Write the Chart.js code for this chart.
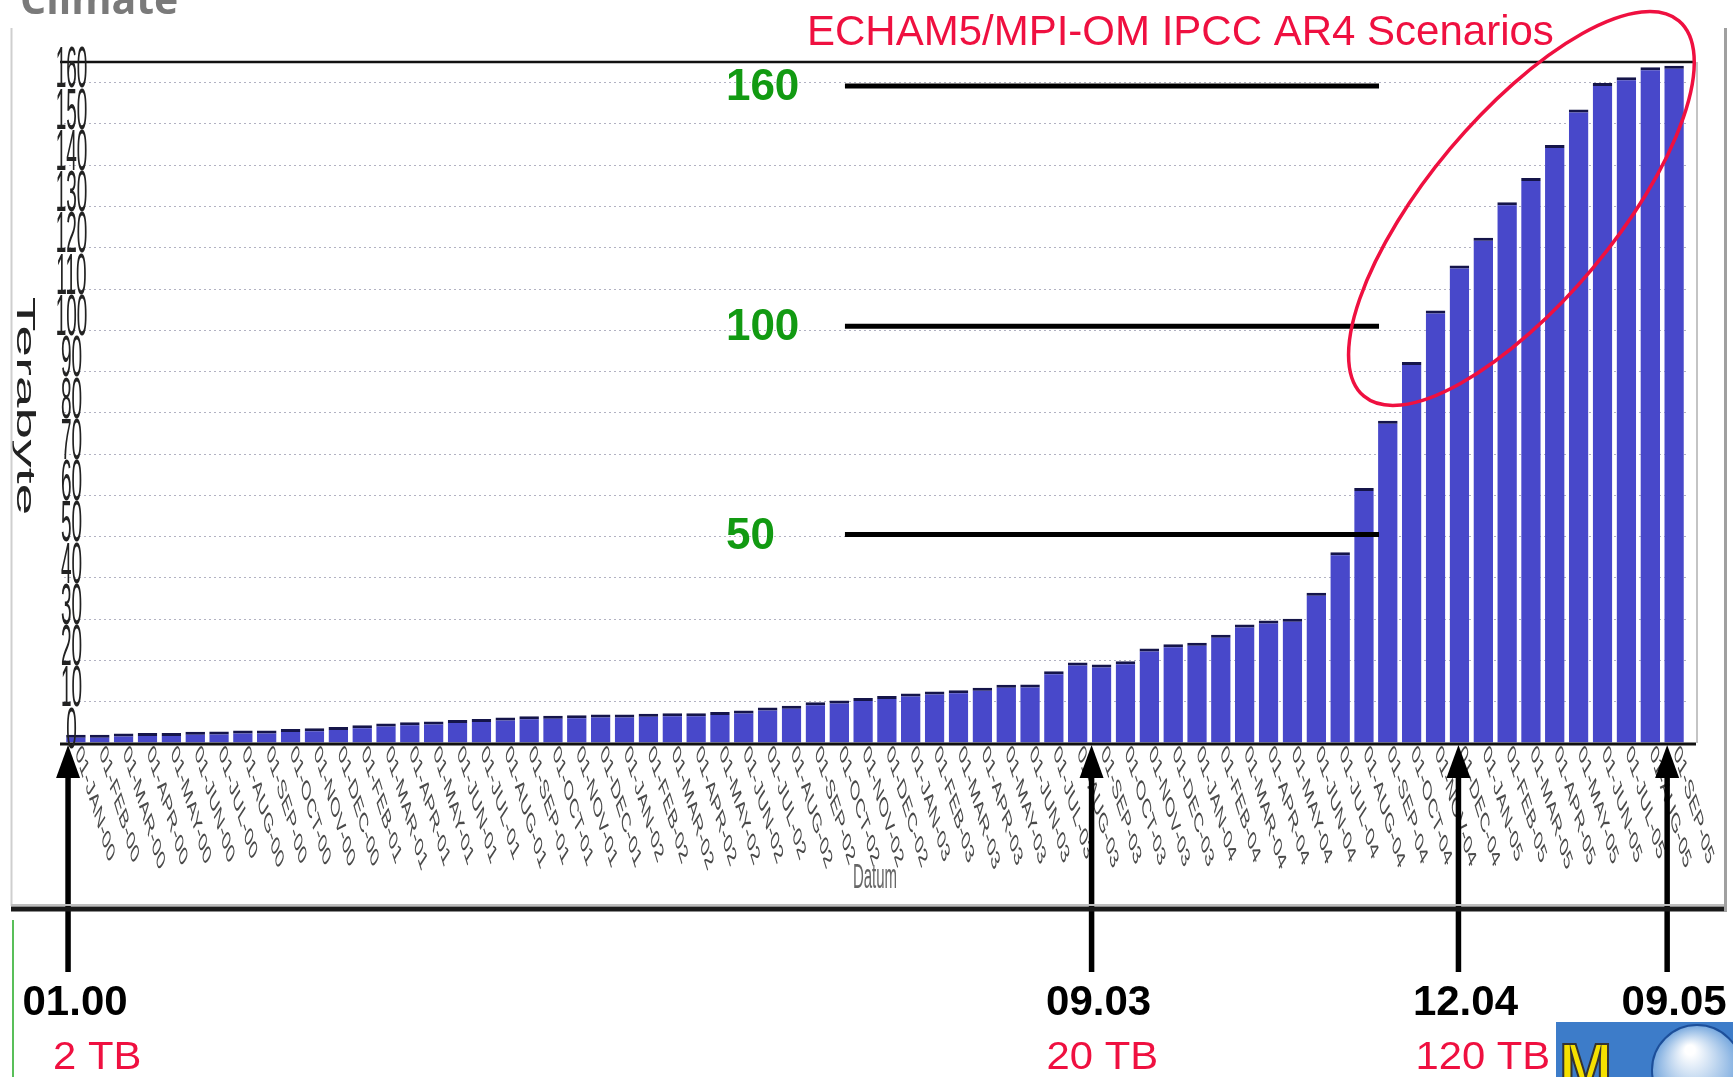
<!DOCTYPE html>
<html>
<head>
<meta charset="utf-8">
<script src="https://cdn.jsdelivr.net/npm/chart.js@4.4.0/dist/chart.umd.min.js"></script>
<style>
  html, body { margin: 0; padding: 0; background: #fff; }
  canvas { display: block; }
</style>
</head>
<body>
<canvas id="barChart" width="1733" height="1077"></canvas>
<script>
// monthly archive size (Terabyte), JAN-01 is missing in the original series
var monthLabels = [
    '01-JAN-00', '01-FEB-00', '01-MAR-00', '01-APR-00', '01-MAY-00', '01-JUN-00',
    '01-JUL-00', '01-AUG-00', '01-SEP-00', '01-OCT-00', '01-NOV-00', '01-DEC-00',
    '01-FEB-01', '01-MAR-01', '01-APR-01', '01-MAY-01', '01-JUN-01', '01-JUL-01',
    '01-AUG-01', '01-SEP-01', '01-OCT-01', '01-NOV-01', '01-DEC-01',
    '01-JAN-02', '01-FEB-02', '01-MAR-02', '01-APR-02', '01-MAY-02', '01-JUN-02',
    '01-JUL-02', '01-AUG-02', '01-SEP-02', '01-OCT-02', '01-NOV-02', '01-DEC-02',
    '01-JAN-03', '01-FEB-03', '01-MAR-03', '01-APR-03', '01-MAY-03', '01-JUN-03',
    '01-JUL-03', '01-AUG-03', '01-SEP-03', '01-OCT-03', '01-NOV-03', '01-DEC-03',
    '01-JAN-04', '01-FEB-04', '01-MAR-04', '01-APR-04', '01-MAY-04', '01-JUN-04',
    '01-JUL-04', '01-AUG-04', '01-SEP-04', '01-OCT-04', '01-NOV-04', '01-DEC-04',
    '01-JAN-05', '01-FEB-05', '01-MAR-05', '01-APR-05', '01-MAY-05', '01-JUN-05',
    '01-JUL-05', '01-AUG-05', '01-SEP-05'
];
var terabytes = [
    2.0, 2.0, 2.3, 2.4, 2.4, 2.7, 2.8, 3.0, 3.0, 3.4,
    3.6, 3.9, 4.3, 4.7, 5.0, 5.2, 5.6, 5.8, 6.2, 6.5,
    6.6, 6.7, 6.9, 6.9, 7.1, 7.2, 7.2, 7.5, 7.9, 8.6,
    9.0, 9.9, 10.3, 10.9, 11.4, 12.0, 12.5, 12.8, 13.4, 14.1,
    14.2, 17.4, 19.5, 19.0, 19.8, 22.9, 23.9, 24.3, 26.2, 28.7,
    29.7, 30.1, 36.4, 46.2, 61.8, 78.1, 92.3, 104.8, 115.7, 122.4,
    131.0, 136.9, 144.9, 153.5, 159.9, 161.3, 163.7, 164.1
];
var yTickLabels = [0, 10, 20, 30, 40, 50, 60, 70, 80, 90, 100, 110, 120, 130, 140, 150, 160];

// hand drawn marks on the slide
var guideLabels = ['160', '100', '50'];
var guideValues = [159.2, 101, 50.5];
var arrowPos = [-0.33, 42.58, 57.96, 66.71];   // in category units
var arrowDates = ['01.00', '09.03', '12.04', '09.05'];
var arrowSizes = ['2 TB', '20 TB', '120 TB', ''];
var sizeOffsets = [-15, -45, -43, 0];

var RED = '#ef1040';
var deg = Math.PI / 180;

function drawText(ctx, text, x, y, opt) {
    ctx.save();
    ctx.translate(x, y);
    ctx.scale(opt.sx || 1, opt.sy || 1);
    ctx.rotate(opt.rot || 0);
    ctx.font = opt.font;
    ctx.fillStyle = opt.color;
    ctx.textAlign = opt.align || 'left';
    ctx.textBaseline = opt.baseline || 'alphabetic';
    ctx.fillText(text, 0, 0);
    ctx.restore();
}

function line(ctx, x1, y1, x2, y2, color, width) {
    ctx.save();
    ctx.strokeStyle = color;
    ctx.lineWidth = width;
    ctx.beginPath();
    ctx.moveTo(x1, y1);
    ctx.lineTo(x2, y2);
    ctx.stroke();
    ctx.restore();
}

var slidePlugin = {
    id: 'slide',
    afterDraw: function (chart) {
        var ctx = chart.ctx;
        var area = chart.chartArea;
        var xs = chart.scales.x;
        var ys = chart.scales.y;
        var base = ys.getPixelForValue(0);

        // frame of the plot
        line(ctx, area.left - 4, area.top, area.right + 9, area.top, '#111', 2.5);
        line(ctx, area.left - 4, base + 1, area.right + 10, base + 1, '#111', 3);
        line(ctx, area.right + 11, area.top, area.right + 11, base, '#c4c4c4', 2);

        // y tick labels (stretched like the original screenshot)
        yTickLabels.forEach(function (v) {
            drawText(ctx, String(v), area.left + 7.5, ys.getPixelForValue(v) - 11, {
                sy: 3, font: '19px "Liberation Sans"', color: '#222', align: 'center', baseline: 'middle'
            });
        });

        // x tick labels
        monthLabels.forEach(function (lab, i) {
            drawText(ctx, lab, xs.getPixelForValue(i) + 2, base + 6, {
                sy: 2.25, rot: 55.4 * deg, font: '12.5px "Liberation Sans"', color: '#4a4a4a', baseline: 'middle'
            });
        });

        drawText(ctx, 'Terabyte', 24, 406, {
            sy: 2.28, rot: 90 * deg, font: '25px "Liberation Sans"', color: '#222', align: 'center', baseline: 'middle'
        });
        drawText(ctx, 'Datum', 875, 878, {
            sy: 2.3, font: '15px "Liberation Sans"', color: '#666', align: 'center', baseline: 'middle'
        });

        // green guide values
        guideValues.forEach(function (v, i) {
            var y = ys.getPixelForValue(v);
            line(ctx, xs.getPixelForValue(32.24), y, xs.getPixelForValue(54.63), y, '#000', 5);
            drawText(ctx, guideLabels[i], xs.getPixelForValue(27.25), y + 2, {
                font: 'bold 44px "Liberation Sans"', color: '#129a12', baseline: 'middle'
            });
        });

        // red ellipse round the scenario months
        ctx.save();
        ctx.strokeStyle = RED;
        ctx.lineWidth = 3.5;
        ctx.beginPath();
        ctx.ellipse(xs.getPixelForValue(60.6), ys.getPixelForValue(129.5), 245, 93, -50 * deg, 0, 2 * Math.PI);
        ctx.stroke();
        ctx.restore();

        // arrows with dates
        arrowPos.forEach(function (p, i) {
            var x = xs.getPixelForValue(p);
            var tip = base + 2;
            line(ctx, x, 972, x, tip + 25, '#000', 5.5);
            ctx.save();
            ctx.fillStyle = '#000';
            ctx.beginPath();
            ctx.moveTo(x, tip);
            ctx.lineTo(x - 12, tip + 33);
            ctx.lineTo(x + 12, tip + 33);
            ctx.closePath();
            ctx.fill();
            ctx.restore();
            drawText(ctx, arrowDates[i], x + 7, 1015, {
                font: 'bold 42px "Liberation Sans"', color: '#000', align: 'center'
            });
            if (arrowSizes[i]) {
                drawText(ctx, arrowSizes[i], x + sizeOffsets[i], 1069, {
                    sx: 1.1, font: '38px "Liberation Sans"', color: RED
                });
            }
        });

        // slide decoration
        drawText(ctx, 'Climate', 20, 14, { font: 'bold 41px "Open Sans"', color: '#7a7a7a' });
        drawText(ctx, 'ECHAM5/MPI-OM IPCC AR4 Scenarios', 807, 45, { font: '42px "Liberation Sans"', color: RED });
        line(ctx, 11.5, 28, 11.5, 906, '#cfcfcf', 2);
        line(ctx, 11, 905, 1726, 905, '#bdbdbd', 2);
        line(ctx, 11, 909, 1726, 909, '#1a1a1a', 5);
        line(ctx, 1725.5, 28, 1725.5, 912, '#a0a0a0', 3);
        line(ctx, 13, 920, 13, 1077, '#22aa22', 1.5);

        // logo corner
        ctx.save();
        ctx.fillStyle = '#3d7cc9';
        ctx.fillRect(1556, 1022, 177, 55);
        var g = ctx.createRadialGradient(1690, 1050, 5, 1697, 1070, 46);
        g.addColorStop(0, '#ffffff');
        g.addColorStop(1, '#6fa3dc');
        ctx.fillStyle = g;
        ctx.beginPath();
        ctx.arc(1697, 1070, 45, 0, 2 * Math.PI);
        ctx.fill();
        ctx.strokeStyle = '#1d4f9a';
        ctx.lineWidth = 2;
        ctx.stroke();
        ctx.font = 'bold 64px "Liberation Sans"';
        ctx.fillStyle = '#f5e000';
        ctx.strokeStyle = '#333';
        ctx.lineWidth = 2;
        ctx.fillText('M', 1559, 1089);
        ctx.strokeText('M', 1559, 1089);
        ctx.restore();
    }
};

var barChartCanvas = document.getElementById('barChart').getContext('2d');

new Chart(barChartCanvas, {
    type: 'bar',
    data: {
        labels: monthLabels,
        datasets: [
            {
                label: 'Terabyte',
                backgroundColor: '#4848ca',
                borderColor: '#15154a',
                borderWidth: { top: 3, right: 0, bottom: 0, left: 0 },
                barPercentage: 0.82,
                categoryPercentage: 1.0,
                data: terabytes
            }
        ]
    },
    options: {
        responsive: false,
        animation: false,
        layout: { padding: { left: 64, right: 47, top: 62, bottom: 334 } },
        plugins: {
            legend: { display: false },
            tooltip: { enabled: false }
        },
        scales: {
            x: { display: false },
            y: {
                min: 0,
                max: 165,
                ticks: { display: false, stepSize: 10 },
                grid: {
                    drawTicks: false,
                    lineWidth: 1,
                    color: function (c) {
                        var v = c.tick ? c.tick.value : 0;
                        return (v > 0 && v <= 160) ? '#b2b2c2' : 'rgba(0,0,0,0)';
                    }
                },
                border: { display: false, dash: [2, 3] }
            }
        }
    },
    plugins: [slidePlugin]
});
</script>
</body>
</html>
